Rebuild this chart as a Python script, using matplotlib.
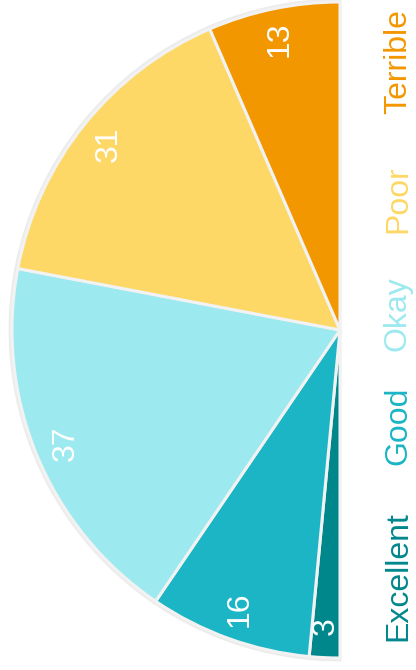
import numpy as np
import matplotlib
matplotlib.use("Agg")
import matplotlib.pyplot as plt

# Данные: оценки (полукруглая диаграмма)
categories = ["Excellent", "Good", "Okay", "Poor", "Terrible"]
values = [3, 16, 37, 31, 13]
colors = ["#00878c", "#1bb5c5", "#9de9f0", "#fdd866", "#f39700"]

plt.rcParams['font.family'] = ['Liberation Sans', 'DejaVu Sans']

W, H = 416, 670
fig = plt.figure(figsize=(W / 100, H / 100), dpi=100)
ax = fig.add_axes([0, 0, 1, 1])

cx, cy, R = 340, H - 330, 328
total = sum(values)

# контур полукруга
ax.pie([v / (2 * total) for v in values], colors=['none'] * len(values),
       center=(cx, cy), radius=R + 2, startangle=270, counterclock=False,
       normalize=False, wedgeprops=dict(edgecolor='#ececec', linewidth=2))

wedges, _ = ax.pie([v / (2 * total) for v in values], colors=colors,
                   center=(cx, cy), radius=R, startangle=270, counterclock=False,
                   normalize=False,
                   wedgeprops=dict(edgecolor='#f2f2f2', linewidth=2.2))

# подписи значений внутри секторов
for w, v in zip(wedges, values):
    mid = np.deg2rad((w.theta1 + w.theta2) / 2)
    r = 0.905 * R
    ax.text(cx + r * np.cos(mid), cy + r * np.sin(mid), str(v),
            rotation=90, ha='center', va='center', color='white', fontsize=23)

ax.set_xlim(0, W)
ax.set_ylim(0, H)
ax.set_aspect('equal')
ax.axis('off')

# легенда справа
legend_y = [576, 426, 314, 199, 62]
for name, c, y in zip(categories, colors, legend_y):
    fig.text(398 / W, 1 - y / H, name, rotation=90, ha='center', va='center',
             color=c, fontsize=23)

fig.savefig('out.png', dpi=100)
